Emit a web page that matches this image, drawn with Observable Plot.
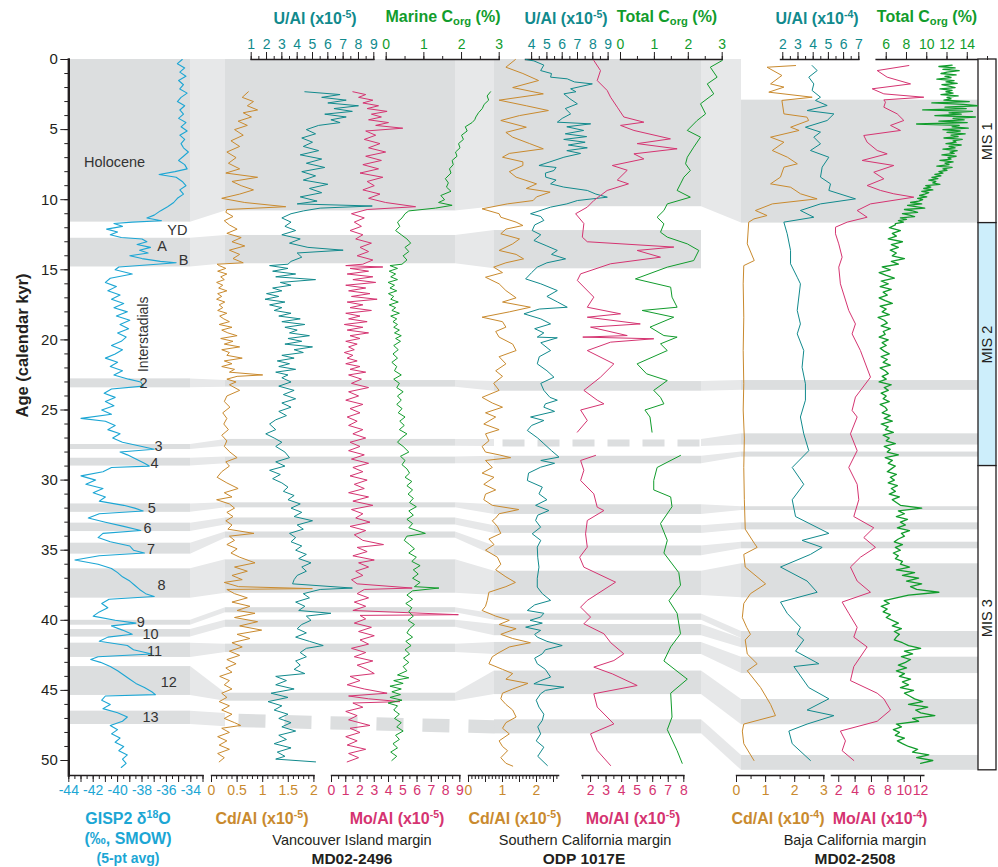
<!DOCTYPE html>
<html>
<head>
<meta charset="utf-8">
<script src="https://cdn.jsdelivr.net/npm/d3@7"></script>
<script src="https://cdn.jsdelivr.net/npm/@observablehq/plot@0.6"></script>
<style>
  body { margin: 0; background: #fff; }
  #fig { position: relative; width: 998px; height: 867px; font-family: "Liberation Sans", Arial, sans-serif; overflow: hidden; }
  #fig svg { position: absolute; left: 0; top: 0; overflow: visible; }
  .lab { position: absolute; transform: translate(-50%, -50%); white-space: nowrap; line-height: 1; }
  .b { font-weight: bold; font-size: 16px; }
  .sup { font-size: 0.66em; vertical-align: 0.55em; }
  .sub { font-size: 0.7em; vertical-align: -0.25em; }
  .site { font-size: 14.5px; color: #231f20; }
  .core { font-size: 15.5px; font-weight: bold; color: #231f20; }
</style>
</head>
<body>
<div id="fig"></div>
<script>
// ---------- shared age axis (calendar kyr) ----------
const ageDomain = [0, 50];
const ageRange = [59, 760];
const W = 998, H = 867, AXIS_TOP = 59, AXIS_BOTTOM = 775;

const C = {
  cyan: "#1ca6d4", orange: "#c98a2e", teal: "#118a8d", pink: "#d53471", green: "#119c2c",
  band: "#dcdedf", link: "#e7e8e9", ink: "#231f20", mis2: "#cdeefb"
};

// ---------- GISP2 δ18O (‰ SMOW), [age kyr, value] ----------
const gisp2 = [[0,-34.7],[0.3,-35.1],[0.6,-34.5],[0.9,-34.9],[1.2,-34.4],[1.5,-35.0],[1.8,-34.6],[2.1,-34.9],[2.4,-34.3],[2.7,-34.8],[3.0,-35.1],[3.3,-34.5],[3.6,-34.9],[3.9,-34.6],[4.2,-35.0],[4.5,-34.4],[4.8,-34.8],[5.1,-34.3],[5.4,-34.9],[5.7,-34.5],[6.0,-34.8],[6.3,-34.6],[6.6,-34.2],[6.9,-34.6],[7.2,-35.0],[7.5,-34.5],[7.8,-34.3],[8.0,-35.3],[8.2,-36.6],[8.4,-35.2],[8.7,-34.7],[9.0,-34.4],[9.3,-34.9],[9.6,-34.6],[9.9,-35.1],[10.2,-35.4],[10.5,-35.9],[10.8,-36.5],[11.1,-37.0],[11.3,-37.6],[11.5,-36.4],[11.6,-38.8],[11.7,-40.3],[11.9,-39.6],[12.1,-40.9],[12.3,-40.0],[12.5,-40.6],[12.7,-39.7],[12.8,-38.0],[13.0,-37.6],[13.2,-38.4],[13.4,-37.3],[13.6,-38.2],[13.8,-37.5],[14.0,-39.0],[14.2,-38.0],[14.4,-36.5],[14.5,-35.2],[14.6,-36.8],[14.8,-39.9],[15.0,-40.2],[15.3,-38.8],[15.6,-40.6],[15.9,-41.0],[16.2,-40.1],[16.5,-40.8],[16.8,-39.8],[17.1,-40.5],[17.4,-39.5],[17.7,-40.3],[18.0,-39.2],[18.3,-40.1],[18.6,-39.0],[18.9,-39.8],[19.2,-39.1],[19.5,-40.0],[19.8,-39.3],[20.1,-39.7],[20.4,-40.5],[20.7,-39.6],[21.0,-40.2],[21.3,-41.0],[21.6,-40.0],[21.9,-40.6],[22.2,-39.6],[22.5,-40.3],[22.8,-39.1],[23.0,-38.1],[23.3,-37.9],[23.5,-40.5],[23.8,-41.1],[24.1,-40.2],[24.4,-41.0],[24.7,-40.3],[25.0,-41.3],[25.3,-40.5],[25.6,-43.0],[25.8,-41.0],[26.1,-40.2],[26.4,-40.8],[26.7,-39.8],[27.0,-40.4],[27.3,-39.6],[27.6,-38.0],[27.8,-37.0],[28.0,-39.8],[28.2,-39.2],[28.5,-38.5],[28.8,-37.8],[29.0,-37.4],[29.1,-40.5],[29.4,-41.2],[29.7,-43.0],[30.0,-41.8],[30.3,-42.6],[30.6,-41.2],[30.9,-42.0],[31.2,-41.0],[31.5,-41.5],[31.8,-39.5],[32.0,-38.6],[32.2,-37.9],[32.4,-41.5],[32.7,-42.4],[33.0,-41.0],[33.3,-39.5],[33.6,-38.1],[33.8,-41.2],[34.1,-41.6],[34.4,-40.6],[34.7,-39.0],[35.0,-38.7],[35.2,-37.8],[35.4,-41.5],[35.7,-43.5],[36.0,-41.6],[36.3,-40.5],[36.6,-40.0],[36.9,-39.6],[37.2,-39.0],[37.5,-38.6],[37.8,-38.2],[38.1,-37.7],[38.3,-37.0],[38.5,-40.7],[38.8,-41.3],[39.1,-40.8],[39.4,-41.5],[39.7,-42.0],[40.0,-40.2],[40.2,-38.5],[40.4,-40.5],[40.7,-39.6],[41.0,-38.8],[41.2,-40.8],[41.5,-41.5],[41.8,-39.2],[42.1,-38.7],[42.4,-37.2],[42.6,-41.6],[42.8,-42.2],[43.0,-41.4],[43.3,-40.6],[43.6,-40.0],[43.9,-39.5],[44.2,-39.0],[44.5,-38.5],[44.8,-37.8],[45.1,-37.2],[45.3,-36.9],[45.4,-41.0],[45.7,-41.3],[46.0,-40.6],[46.3,-41.2],[46.6,-40.0],[46.9,-39.2],[47.2,-39.6],[47.5,-40.6],[47.8,-40.0],[48.1,-40.5],[48.4,-39.8],[48.7,-40.2],[49.0,-39.5],[49.3,-39.9],[49.6,-39.2],[49.9,-39.6],[50.2,-39.3],[50.5,-39.7]];

// ---------- MD02-2496, Vancouver Island margin ----------
const md2496Cd = [[2.3,0.72],[2.7,0.6],[3.0,0.82],[3.3,0.7],[3.6,0.9],[3.8,0.62],[4.1,0.78],[4.4,0.52],[4.7,0.7],[5.0,0.45],[5.4,0.62],[5.8,0.38],[6.2,0.55],[6.6,0.3],[7.0,0.48],[7.4,0.33],[7.8,0.55],[8.1,0.28],[8.4,0.9],[8.7,0.4],[9.0,0.58],[9.3,0.82],[9.6,0.55],[9.9,0.2],[10.2,0.65],[10.5,1.45],[10.7,0.3],[10.9,0.28],[11.2,0.42],[11.5,0.25],[11.8,0.35],[12.1,0.5],[12.4,0.3],[12.7,0.58],[13.0,0.4],[13.3,0.65],[13.6,0.35],[13.9,0.55],[14.2,0.42],[14.5,0.62],[14.6,0.11],[14.7,0.15],[14.9,0.28],[15.1,0.12],[15.3,0.3],[15.5,0.18],[15.7,0.25],[15.9,0.1],[16.1,0.22],[16.3,0.14],[16.5,0.3],[16.7,0.12],[16.9,0.2],[17.1,0.1],[17.3,0.26],[17.5,0.15],[17.7,0.22],[17.9,0.12],[18.1,0.3],[18.3,0.16],[18.5,0.24],[18.7,0.35],[18.9,0.15],[19.1,0.4],[19.3,0.2],[19.5,0.32],[19.7,0.5],[19.9,0.18],[20.1,0.42],[20.3,0.25],[20.5,0.55],[20.7,0.2],[20.9,0.35],[21.1,0.3],[21.3,0.6],[21.5,0.25],[21.7,0.4],[21.9,0.2],[22.1,0.45],[22.3,0.35],[22.5,1.0],[22.6,0.5],[22.8,0.3],[23.0,0.48],[23.2,0.35],[23.6,0.55],[24.0,0.3],[24.4,0.25],[24.8,0.36],[25.2,0.22],[25.6,0.3],[26.0,0.24],[26.4,0.33],[26.8,0.2],[27.2,0.3],[27.6,0.25],[28.0,0.36],[28.4,0.5],[28.7,0.28],[29.0,0.35],[29.4,0.2],[29.8,0.11],[30.2,0.3],[30.6,0.52],[30.9,0.25],[31.2,0.4],[31.4,0.1],[31.7,0.35],[32.0,0.45],[32.3,0.3],[32.6,0.42],[32.9,0.28],[33.2,0.4],[33.5,0.32],[33.8,0.83],[34.0,0.35],[34.3,0.45],[34.6,0.3],[34.9,0.5],[35.2,0.38],[35.5,0.55],[35.9,0.85],[36.2,0.45],[36.5,0.7],[36.8,0.4],[37.1,0.6],[37.3,0.25],[37.6,0.53],[37.74,1.97],[37.8,0.3],[38.1,0.45],[38.4,0.7],[38.7,0.4],[39.0,0.75],[39.3,0.5],[39.5,0.85],[39.8,0.45],[40.1,0.9],[40.4,0.55],[40.7,0.98],[41.0,0.5],[41.3,0.75],[41.6,0.4],[41.9,0.6],[42.2,0.35],[42.5,0.55],[42.8,0.3],[43.1,0.48],[43.4,0.28],[43.7,0.4],[44.0,0.16],[44.3,0.35],[44.6,0.25],[44.9,0.4],[45.2,0.2],[45.5,0.3],[45.8,0.15],[46.1,0.35],[46.4,0.2],[46.7,0.4],[47.0,0.25],[47.3,0.45],[47.5,0.57],[47.7,0.2],[48.0,0.35],[48.3,0.12],[48.6,0.3],[48.9,0.15],[49.2,0.35],[49.5,0.12],[49.8,0.25],[50.1,0.15]];

const md2496U = [[2.3,4.5],[2.5,6.8],[2.7,5.6],[2.9,7.2],[3.1,6.0],[3.3,8.0],[3.5,6.4],[3.7,7.6],[3.9,5.8],[4.1,7.2],[4.3,6.2],[4.5,6.8],[4.7,5.4],[5.0,4.6],[5.3,5.2],[5.6,4.3],[5.9,5.0],[6.2,4.4],[6.5,5.4],[6.8,4.2],[7.1,5.6],[7.4,4.6],[7.7,5.8],[8.0,4.3],[8.3,5.2],[8.6,4.4],[8.9,6.0],[9.2,4.8],[9.5,5.6],[9.8,4.2],[10.1,5.3],[10.3,4.0],[10.45,8.9],[10.6,5.5],[10.8,4.4],[11.0,3.6],[11.3,3.0],[11.6,3.6],[11.9,3.2],[12.2,3.9],[12.5,3.0],[12.8,4.2],[13.1,3.5],[13.4,4.7],[13.6,7.0],[13.8,4.0],[14.1,4.3],[14.4,3.6],[14.6,3.4],[14.7,2.2],[14.9,3.4],[15.1,2.4],[15.3,3.9],[15.5,2.6],[15.7,5.2],[15.9,2.9],[16.1,3.6],[16.3,2.4],[16.5,3.0],[16.7,2.0],[16.9,2.8],[17.1,1.9],[17.3,3.2],[17.5,2.2],[17.7,3.0],[17.9,2.5],[18.1,3.6],[18.3,2.8],[18.5,4.2],[18.7,3.0],[18.9,4.5],[19.1,3.2],[19.3,4.0],[19.5,3.5],[19.7,4.8],[19.9,3.4],[20.1,4.3],[20.3,3.2],[20.5,5.0],[20.7,3.8],[20.9,4.4],[21.1,3.0],[21.3,3.8],[21.5,2.7],[21.7,3.5],[21.9,2.8],[22.1,3.9],[22.3,2.6],[22.5,3.4],[22.7,3.0],[23.0,3.6],[23.3,2.8],[23.6,3.8],[23.9,3.1],[24.2,3.9],[24.5,3.0],[24.8,3.6],[25.1,2.8],[25.4,3.3],[25.7,2.6],[26.0,2.2],[26.4,2.6],[26.7,1.95],[27.0,2.5],[27.3,3.0],[27.6,2.6],[28.0,3.2],[28.4,3.5],[28.7,2.6],[29.0,3.2],[29.3,2.2],[29.6,2.9],[29.9,2.4],[30.2,3.0],[30.5,3.4],[30.8,3.1],[31.1,3.8],[31.4,3.4],[31.7,4.2],[32.0,3.6],[32.3,4.3],[32.6,3.8],[32.9,5.0],[33.2,4.0],[33.5,4.4],[33.8,3.5],[34.1,3.9],[34.4,3.6],[34.7,4.3],[35.0,3.9],[35.3,4.6],[35.6,4.1],[35.9,4.9],[36.2,4.3],[36.5,4.6],[36.8,4.0],[37.1,3.8],[37.4,3.7],[37.7,7.6],[37.8,5.5],[38.1,4.4],[38.4,4.8],[38.7,3.9],[39.0,4.5],[39.3,4.1],[39.5,6.2],[39.7,4.6],[40.0,4.9],[40.3,4.3],[40.6,4.0],[40.9,4.6],[41.2,3.9],[41.5,4.8],[41.8,5.7],[42.0,4.6],[42.3,4.2],[42.6,4.6],[42.9,3.9],[43.2,4.2],[43.5,3.8],[43.8,4.5],[44.0,2.6],[44.3,3.3],[44.6,2.6],[44.9,3.8],[45.2,2.3],[45.5,3.4],[45.8,2.1],[46.1,3.0],[46.4,2.5],[46.7,3.4],[47.0,2.8],[47.3,3.6],[47.6,3.0],[47.9,3.9],[48.2,2.8],[48.5,3.3],[48.8,2.5],[49.1,3.6],[49.4,2.7],[49.7,3.2],[49.9,2.6],[50.1,5.2]];

const md2496Mo = [[2.3,1.5],[2.5,2.4],[2.7,1.9],[2.9,2.9],[3.1,2.2],[3.3,3.3],[3.5,2.5],[3.7,3.9],[3.9,2.8],[4.1,3.5],[4.3,2.6],[4.5,4.0],[4.7,3.1],[4.9,5.0],[5.1,2.4],[5.4,3.1],[5.7,2.3],[6.0,3.4],[6.3,2.6],[6.6,3.8],[6.9,2.4],[7.2,3.5],[7.5,2.2],[7.8,3.3],[8.1,2.0],[8.4,3.6],[8.7,2.5],[9.0,3.0],[9.3,2.2],[9.6,3.4],[9.9,2.6],[10.2,3.8],[10.5,5.9],[10.7,2.5],[11.0,1.4],[11.3,2.3],[11.6,1.6],[11.9,2.1],[12.2,1.3],[12.5,2.2],[12.8,1.7],[13.1,2.8],[13.4,2.0],[13.7,2.6],[14.0,1.8],[14.3,2.9],[14.6,2.2],[14.7,1.0],[14.8,3.6],[14.9,1.3],[15.1,2.6],[15.3,1.1],[15.5,2.9],[15.7,1.5],[15.9,3.1],[16.1,1.0],[16.3,2.4],[16.5,1.2],[16.7,2.7],[16.9,1.4],[17.1,3.2],[17.3,1.1],[17.5,2.2],[17.7,1.3],[17.9,2.8],[18.1,1.0],[18.3,2.0],[18.5,1.2],[18.7,2.5],[18.9,0.9],[19.1,2.2],[19.3,1.1],[19.5,2.6],[19.7,1.3],[19.9,2.0],[20.1,1.0],[20.3,1.8],[20.5,1.2],[20.7,1.6],[20.9,0.9],[21.1,1.5],[21.3,1.1],[21.5,1.8],[21.7,1.0],[21.9,2.0],[22.1,1.3],[22.3,2.4],[22.5,1.2],[22.8,2.1],[23.1,1.4],[23.4,2.6],[23.7,1.2],[24.0,1.9],[24.3,1.0],[24.6,2.2],[24.9,1.3],[25.2,2.0],[25.5,1.1],[25.8,1.8],[26.1,1.2],[26.4,2.2],[26.7,1.5],[27.0,2.4],[27.3,1.3],[27.6,2.0],[27.9,1.2],[28.2,2.3],[28.5,1.4],[28.8,2.6],[29.1,1.5],[29.4,2.2],[29.7,1.3],[30.0,2.5],[30.3,1.6],[30.6,2.3],[30.9,1.2],[31.2,2.6],[31.5,1.5],[31.8,2.9],[32.1,1.4],[32.4,2.2],[32.7,1.7],[33.0,2.7],[33.3,1.3],[33.6,2.4],[33.9,1.6],[34.3,2.2],[34.6,3.65],[34.8,1.8],[35.1,2.5],[35.4,1.5],[35.7,3.0],[35.9,1.9],[36.2,2.6],[36.5,1.7],[36.8,2.2],[37.1,1.4],[37.4,1.8],[37.7,5.66],[37.8,2.3],[38.1,1.8],[38.4,2.6],[38.7,1.6],[39.0,2.4],[39.3,1.5],[39.6,8.9],[39.65,2.0],[39.9,2.4],[40.2,1.6],[40.5,2.8],[40.8,1.9],[41.1,3.0],[41.4,2.0],[41.7,2.6],[42.0,1.4],[42.3,2.4],[42.6,1.6],[42.9,2.9],[43.2,1.8],[43.5,2.5],[43.8,3.0],[44.0,1.3],[44.3,2.0],[44.6,1.1],[44.9,2.3],[45.2,3.9],[45.4,1.2],[45.6,2.6],[45.8,4.8],[45.9,1.5],[46.2,2.2],[46.5,1.0],[46.8,1.8],[47.1,1.2],[47.5,2.7],[47.7,1.3],[48.0,2.0],[48.3,1.0],[48.6,1.8],[48.9,1.1],[49.2,2.4],[49.5,1.2],[49.8,1.9],[50.1,1.1]];

const md2496Corg = [[2.3,2.77],[2.6,2.68],[2.9,2.72],[3.2,2.6],[3.5,2.55],[3.8,2.45],[4.1,2.38],[4.3,2.35],[4.5,2.28],[4.8,2.1],[5.1,2.15],[5.4,2.0],[5.7,2.05],[6.0,1.92],[6.3,1.96],[6.6,1.84],[6.9,1.88],[7.2,1.75],[7.5,1.78],[7.8,1.68],[8.1,1.72],[8.5,1.57],[8.8,1.65],[9.1,1.6],[9.4,1.72],[9.7,1.45],[10.0,1.55],[10.2,1.39],[10.4,1.75],[10.6,1.31],[10.8,0.6],[11.0,0.5],[11.3,0.42],[11.6,0.3],[11.9,0.36],[12.2,0.25],[12.5,0.4],[12.8,0.55],[13.1,0.65],[13.4,0.5],[13.7,0.6],[14.0,0.45],[14.3,0.55],[14.6,0.42],[14.7,0.1],[14.9,0.3],[15.1,0.08],[15.3,0.25],[15.5,0.12],[15.7,0.3],[15.9,0.05],[16.1,0.22],[16.3,0.1],[16.5,0.28],[16.7,0.06],[16.9,0.2],[17.1,0.12],[17.3,0.32],[17.5,0.08],[17.7,0.25],[17.9,0.15],[18.1,0.35],[18.3,0.12],[18.5,0.28],[18.7,0.18],[18.9,0.3],[19.1,0.2],[19.3,0.35],[19.5,0.22],[19.7,0.4],[19.9,0.25],[20.1,0.38],[20.4,0.2],[20.7,0.32],[21.0,0.18],[21.3,0.3],[21.6,0.15],[21.9,0.28],[22.2,0.22],[22.5,0.4],[22.8,0.2],[23.1,0.35],[23.4,0.28],[23.7,0.45],[24.0,0.3],[24.3,0.4],[24.6,0.28],[24.9,0.42],[25.2,0.32],[25.5,0.5],[25.8,0.36],[26.1,0.48],[26.4,0.35],[26.7,0.55],[27.0,0.4],[27.3,0.3],[27.6,0.45],[28.0,0.6],[28.3,0.38],[28.6,0.5],[28.9,0.42],[29.2,0.55],[29.5,0.62],[29.8,0.5],[30.1,0.68],[30.4,0.55],[30.7,0.7],[31.0,0.58],[31.3,0.72],[31.6,0.62],[31.9,0.8],[32.2,0.6],[32.5,0.72],[32.8,0.55],[33.1,0.7],[33.4,0.6],[33.8,1.04],[34.0,0.55],[34.3,0.48],[34.6,0.62],[34.9,0.75],[35.2,0.6],[35.5,0.8],[35.8,0.68],[36.1,0.9],[36.4,0.72],[36.7,0.85],[37.0,0.7],[37.3,0.9],[37.6,0.75],[37.7,1.4],[37.9,0.7],[38.2,0.55],[38.5,0.7],[38.8,0.52],[39.1,0.68],[39.4,0.6],[39.7,0.72],[40.0,0.58],[40.3,0.75],[40.6,0.62],[40.9,0.55],[41.2,0.7],[41.5,0.52],[41.8,0.66],[42.1,0.5],[42.4,0.62],[42.7,0.46],[43.0,0.6],[43.3,0.45],[43.6,0.55],[43.9,0.3],[44.1,0.6],[44.3,0.2],[44.5,0.45],[44.7,0.1],[44.9,0.4],[45.1,0.15],[45.3,0.38],[45.5,0.1],[45.7,0.42],[45.9,0.05],[46.1,0.3],[46.4,0.2],[46.7,0.35],[47.0,0.22],[47.3,0.4],[47.6,0.28],[47.9,0.45],[48.2,0.25],[48.5,0.35],[48.8,0.18],[49.1,0.3],[49.4,0.12],[49.7,0.28],[50.0,0.15]];

// ---------- ODP 1017E, Southern California margin (null = no samples) ----------
const odpCd = [[0.0,1.38],[0.55,1.1],[1.0,1.6],[1.5,2.06],[2.0,1.3],[2.45,2.2],[2.9,0.9],[3.3,1.7],[3.64,2.35],[4.0,1.5],[4.35,0.95],[4.83,1.7],[5.2,1.1],[5.54,1.3],[6.0,1.8],[6.37,2.2],[6.7,1.2],[6.97,1.0],[7.3,1.6],[7.56,1.6],[8.0,1.2],[8.39,1.4],[8.87,2.0],[9.2,1.7],[9.46,2.4],[9.8,2.0],[10.06,1.9],[10.3,1.14],[10.65,0.4],[11.0,0.9],[11.25,0.95],[11.6,1.4],[11.84,1.6],[12.1,1.1],[12.43,0.95],[12.8,1.5],[13.15,1.3],[13.62,0.9],[13.9,1.4],[14.22,1.62],[14.5,1.1],[14.81,0.74],[15.2,1.0],[15.53,0.5],[16.0,0.9],[16.48,1.1],[17.0,1.4],[17.3,1.0],[17.67,1.82],[18.0,1.2],[18.38,0.4],[18.7,1.0],[19.09,1.1],[19.4,0.8],[19.8,0.9],[20.3,1.3],[20.76,1.4],[21.2,0.9],[21.71,1.1],[22.2,0.8],[22.6,1.0],[23.1,0.74],[23.6,0.9],[24.1,0.4],[24.5,0.7],[24.8,1.0],[25.2,0.5],[25.5,0.8],[26.0,0.45],[26.4,0.9],[26.7,0.5],[27.2,0.6],[27.6,0.4],[28.0,0.5],[28.2,0.9],[28.4,1.24],[28.6,0.5],[29.1,0.7],[29.5,0.4],[29.8,0.75],[30.3,0.45],[30.7,0.8],[31.0,0.5],[31.4,0.45],[31.8,0.7],[32.1,1.48],[32.4,0.9],[32.7,0.8],[32.9,0.7],[33.3,0.85],[33.8,0.95],[34.2,0.6],[34.6,0.75],[35.0,0.5],[35.5,0.85],[36.0,0.95],[36.4,0.8],[36.9,1.1],[37.3,1.38],[37.6,1.1],[38.0,0.6],[38.6,0.55],[39.0,0.5],[39.3,0.4],[39.7,0.8],[40.0,1.2],[40.3,0.9],[40.6,1.4],[41.0,0.95],[41.3,1.3],[41.6,1.82],[41.9,1.2],[42.3,0.9],[42.6,0.7],[43.1,0.6],[43.5,1.0],[43.8,1.3],[44.2,1.1],[44.5,1.75],[44.9,1.3],[45.2,1.0],[45.6,0.95],[46.0,1.1],[46.4,1.3],[46.9,1.4],[47.3,1.1],[47.7,1.0],[48.1,1.2],[48.6,0.9],[49.0,1.0],[49.3,1.15],[49.8,0.95],[50.2,1.1],[50.4,1.3]];

const odpU = [[0.0,3.61],[0.1,4.15],[0.4,4.8],[0.79,4.59],[1.0,5.3],[1.26,5.24],[1.38,6.33],[1.6,6.8],[1.74,7.97],[2.09,6.55],[2.3,6.9],[2.45,6.11],[2.8,6.5],[3.16,6.99],[3.5,6.2],[3.88,6.55],[4.2,6.0],[4.47,5.68],[4.59,7.86],[4.8,6.3],[5.06,7.4],[5.3,6.2],[5.5,7.6],[5.7,6.1],[5.9,7.5],[6.1,6.4],[6.3,7.64],[6.5,6.3],[6.7,7.2],[6.97,6.11],[7.3,5.2],[7.56,4.48],[7.7,5.6],[7.92,5.46],[8.1,4.9],[8.39,4.92],[8.6,5.6],[8.87,5.24],[9.1,6.1],[9.34,7.64],[9.6,8.2],[9.82,8.95],[10.06,6.99],[10.3,6.3],[10.53,5.24],[11.0,3.93],[11.2,4.6],[11.48,4.8],[11.8,4.2],[12.2,4.04],[12.5,4.6],[12.91,4.15],[13.3,5.0],[13.62,5.68],[13.9,5.3],[14.22,6.22],[14.5,5.0],[14.81,4.37],[15.2,4.0],[15.65,3.61],[16.0,4.6],[16.48,5.68],[16.9,5.0],[17.3,5.7],[17.67,6.33],[17.8,4.5],[18.14,3.5],[18.5,4.6],[18.86,5.24],[19.2,4.2],[19.5,4.8],[19.8,4.37],[19.85,5.68],[20.2,4.6],[20.76,5.24],[21.2,4.5],[21.71,4.37],[22.2,5.0],[22.66,5.46],[23.1,4.6],[23.6,4.8],[24.1,5.2],[24.3,5.68],[24.56,4.9],[24.8,4.8],[25.1,5.5],[25.5,3.93],[25.75,4.8],[26.1,4.0],[26.46,3.72],[27.0,4.4],[27.4,4.8],[27.9,5.3],[28.36,5.79],[28.6,4.6],[28.8,5.5],[29.08,4.59],[29.5,3.8],[30.03,3.72],[30.5,4.7],[30.98,4.48],[31.4,5.0],[31.8,4.26],[32.17,5.13],[32.5,4.4],[32.88,4.26],[33.36,4.59],[33.83,4.04],[34.3,4.6],[34.78,4.37],[35.5,4.4],[36.21,4.48],[37.0,4.37],[37.63,4.37],[38.1,4.7],[38.58,5.24],[38.9,4.2],[39.3,3.72],[39.5,4.8],[39.77,4.59],[40.0,3.9],[40.2,4.7],[40.49,3.61],[40.72,4.59],[41.0,4.2],[41.2,4.37],[41.5,5.0],[41.8,6.0],[42.1,4.9],[42.39,4.7],[42.7,4.2],[43.1,4.37],[43.5,4.9],[44.05,5.24],[44.3,4.6],[44.53,4.15],[44.77,6.11],[45.0,4.9],[45.24,4.59],[45.7,4.3],[46.19,4.48],[46.7,4.8],[47.14,4.7],[47.6,4.4],[48.1,4.59],[48.6,4.3],[49.05,4.8],[49.7,4.4],[50.36,5.03]];

const odpMo = [[0.07,2.21],[0.79,2.64],[1.5,2.43],[2.21,3.07],[2.69,3.29],[3.4,3.72],[4.1,4.14],[4.47,5.43],[4.7,3.93],[5.06,4.79],[5.66,7.14],[6.0,5.0],[6.37,7.57],[6.73,4.79],[7.09,5.43],[7.56,3.4],[7.9,4.36],[8.6,3.72],[8.87,4.44],[9.34,3.07],[10.06,2.21],[10.53,1.79],[11.0,1.04],[11.7,1.57],[12.67,1.47],[13.0,1.79],[13.38,7.36],[13.62,5.0],[14.1,6.5],[14.57,3.29],[15.29,1.36],[15.76,1.15],[16.95,2.21],[17.67,1.79],[18.14,3.93],[18.38,1.79],[18.86,5.2],[19.09,2.0],[19.69,4.36],[19.8,1.5],[19.92,6.07],[20.16,3.29],[20.76,1.79],[21.71,3.5],[22.66,2.64],[23.6,1.57],[24.3,2.43],[24.56,2.86],[25.0,1.36],[25.75,1.79],[26.58,1.15],[27.4,null],[28.24,2.32],[28.6,1.36],[29.3,1.57],[30.03,1.36],[30.98,2.21],[31.93,2.43],[32.17,2.86],[32.88,1.79],[33.83,1.68],[34.78,1.79],[35.5,1.3],[36.21,1.57],[37.28,3.61],[38.58,1.79],[39.06,1.36],[39.77,2.0],[40.25,1.57],[40.96,2.86],[41.6,3.3],[42.39,4.14],[42.87,3.5],[43.34,2.21],[43.82,3.4],[44.65,5.0],[45.24,2.21],[46.19,2.43],[47.39,3.5],[48.1,2.0],[49.29,2.43],[50.36,3.29]];

const odpCorg = [[0.07,3.0],[0.55,2.65],[1.26,2.85],[1.74,2.56],[2.45,2.75],[3.16,2.36],[3.88,2.51],[4.35,2.26],[5.06,1.97],[5.54,2.36],[6.25,2.16],[6.97,1.97],[7.44,1.92],[7.92,2.06],[8.39,1.87],[8.87,1.77],[9.34,1.67],[9.82,2.06],[10.3,1.38],[10.77,1.28],[11.25,1.08],[11.72,1.28],[12.32,1.18],[12.67,1.38],[13.15,1.97],[13.62,2.31],[14.34,2.16],[14.81,1.38],[15.65,0.44],[16.24,1.48],[16.95,1.52],[17.67,1.67],[17.9,0.64],[18.38,1.57],[19.09,0.87],[19.69,1.28],[19.8,1.67],[20.28,1.18],[20.76,1.38],[21.71,0.49],[22.42,0.77],[22.9,1.38],[23.6,0.98],[24.1,1.18],[24.56,1.28],[25.0,0.72],[25.5,0.87],[26.58,0.93],[27.4,null],[28.24,1.77],[29.1,1.08],[30.03,0.98],[30.7,0.98],[31.2,1.48],[31.9,1.52],[33.1,1.18],[34.3,1.38],[35.2,1.28],[36.6,1.72],[37.5,1.77],[38.6,1.43],[39.5,1.67],[40.96,1.77],[41.9,1.48],[42.9,1.28],[44.2,1.97],[45.2,1.48],[46.9,1.52],[47.8,1.38],[49.3,1.67],[50.2,1.82]];

// ---------- MD02-2508, Baja California margin ----------
const md2508Cd = [[0.43,2.03],[0.55,1.05],[1.14,1.56],[1.74,1.17],[1.97,1.63],[2.33,1.11],[2.69,2.6],[2.92,1.56],[3.88,1.63],[4.11,2.42],[4.35,2.48],[4.83,1.86],[5.06,2.15],[5.54,1.17],[5.9,1.63],[6.49,1.23],[6.97,1.75],[7.44,2.09],[7.68,1.63],[8.39,1.51],[8.87,1.17],[9.11,1.86],[9.58,2.2],[9.94,2.77],[10.3,1.23],[10.77,0.65],[11.13,1.05],[11.37,0.6],[11.6,0.42],[13.15,0.37],[14.34,0.61],[14.7,0.25],[16.0,0.23],[18.38,0.25],[20.76,0.23],[23.13,0.25],[25.0,0.23],[27.0,0.27],[29.1,0.25],[31.4,0.27],[33.5,0.3],[34.5,0.61],[34.8,0.71],[35.3,0.25],[36.2,0.3],[37.4,1.0],[38.1,0.48],[38.8,0.25],[39.8,0.2],[40.5,0.35],[41.0,0.48],[41.4,0.3],[42.4,0.37],[43.1,0.71],[43.6,0.37],[44.8,0.83],[46.0,1.17],[46.8,1.34],[47.4,0.25],[47.9,0.2],[48.8,0.25],[50.0,0.6]];

const md2508U = [[0.43,3.93],[0.79,4.26],[1.26,3.71],[1.74,4.04],[2.21,3.93],[2.69,4.48],[2.92,4.15],[3.28,4.92],[3.64,3.6],[3.88,5.36],[4.35,4.92],[4.83,3.49],[5.18,4.48],[5.54,4.04],[6.02,4.48],[6.49,3.82],[6.97,5.03],[7.68,4.59],[8.39,4.48],[8.87,5.14],[9.34,5.03],[9.94,6.78],[10.3,4.48],[10.77,3.16],[11.25,4.04],[11.6,2.07],[12.43,2.29],[13.62,2.51],[14.57,2.51],[15.53,2.95],[16.0,3.16],[17.9,2.95],[18.86,3.16],[19.57,2.95],[20.76,3.38],[21.95,3.27],[23.13,3.49],[24.3,3.49],[25.5,3.16],[26.7,3.38],[27.9,3.71],[29.1,2.62],[30.3,3.38],[31.4,2.62],[32.6,2.84],[33.8,5.03],[34.3,3.27],[34.8,4.59],[35.3,3.82],[36.2,1.85],[37.2,3.6],[38.0,4.26],[38.7,1.85],[39.5,2.29],[40.5,3.16],[41.0,2.95],[41.4,3.38],[42.2,2.84],[43.1,4.37],[43.3,2.73],[44.8,3.71],[45.6,5.03],[46.4,3.6],[46.8,5.36],[47.4,3.6],[47.9,2.4],[48.8,2.62],[50.0,3.82]];

const md2508Mo = [[0.43,10.57],[0.79,6.7],[1.26,7.92],[1.74,10.78],[2.09,6.09],[2.45,7.51],[2.69,12.4],[2.88,7.51],[3.04,7.71],[3.4,7.51],[3.88,9.15],[4.35,9.96],[4.7,8.33],[5.06,9.55],[5.42,5.06],[5.9,5.47],[6.49,6.7],[6.73,7.92],[7.2,4.86],[7.56,8.73],[8.04,6.28],[8.51,7.51],[8.99,5.47],[9.34,7.1],[9.58,8.73],[9.82,11.18],[10.3,5.88],[10.77,4.25],[11.25,5.47],[11.6,3.03],[11.96,1.6],[12.43,1.6],[13.15,2.0],[14.1,2.41],[14.81,2.0],[16.0,2.2],[17.9,3.22],[18.86,4.04],[19.57,3.63],[20.76,4.65],[22.66,5.88],[24.08,4.04],[25.03,3.63],[25.5,4.25],[26.7,3.43],[27.9,4.25],[29.1,3.22],[30.3,4.25],[31.4,4.45],[32.6,3.84],[33.4,6.28],[34.1,5.06],[34.8,6.49],[35.5,4.65],[36.2,3.43],[37.2,4.25],[38.0,5.88],[38.7,2.41],[39.5,3.22],[40.5,4.25],[41.2,3.84],[41.9,5.47],[43.3,3.84],[44.3,3.43],[45.2,6.7],[45.6,7.51],[46.4,8.33],[47.2,6.7],[47.9,2.2],[48.6,2.82],[49.3,2.41],[50.0,3.84]];

// Total Corg (%): high-resolution scan, Holocene sampled every 0.1 kyr from 0.4 kyr,
// glacial section every 0.2 kyr from 11.8 kyr
const md2508CorgHolocene = [12.5,11.2,12.8,11.6,13.2,12.0,11.4,12.9,11.8,12.4,11.0,12.7,11.9,13.0,11.5,12.2,12.8,11.3,12.5,11.9,12.6,11.4,13.1,12.0,12.4,11.7,
  14.2,10.5,13.6,15.0,11.8,13.9,9.6,14.5,12.2,13.4,10.8,14.8,12.6,13.7,11.2,14.0,9.0,13.2,12.5,14.1,11.6,
  13.3,12.0,13.8,12.4,13.1,11.7,13.5,12.6,12.9,11.9,13.4,12.2,12.8,11.6,13.0,12.3,12.7,11.5,12.9,12.1,12.4,11.3,12.6,11.8,12.2,11.0,12.5,11.6,12.0,11.2,
  11.6,10.8,11.4,10.5,11.1,10.2,10.9,10.6,11.3,9.9,10.4,9.7,10.6,9.5,10.2,9.8,9.3,10.0,9.1,9.6,
  9.2,8.4,9.5,8.1,8.9,9.8,7.8,8.6,9.1,7.6,8.3,8.8,7.4,8.0,7.2,7.7,6.9];
const md2508CorgGlacial = [6.9,6.3,7.4,6.6,7.0,6.2,7.6,6.5,7.2,6.4,7.0,6.6,7.8,6.5,7.2,
  5.6,6.4,5.3,6.0,6.8,5.5,6.2,5.4,6.5,5.7,6.1,5.3,5.9,6.6,5.4,6.0,5.6,6.3,5.2,5.8,6.1,5.5,6.4,5.7,5.9,5.3,6.2,5.6,6.0,5.4,5.8,6.3,5.5,6.1,5.7,6.4,5.4,5.9,6.2,5.6,6.0,5.3,6.5,5.8,6.2,5.5,6.0,5.7,6.3,5.4,5.9,6.1,5.6,6.4,5.8,6.6,5.5,6.2,5.9,6.7,5.7,6.3,6.0,6.9,5.8,6.4,6.1,7.2,5.9,6.6,6.2,6.9,
  6.5,6.1,7.0,6.4,6.8,6.2,7.1,6.5,6.9,6.3,7.3,6.6,7.0,7.4,
  9.5,7.2,7.8,7.0,8.1,7.4,7.9,7.1,8.3,7.5,7.8,
  7.2,6.8,7.6,6.9,7.4,6.7,7.2,6.9,7.6,
  7.4,8.3,7.0,8.8,7.6,9.2,8.0,9.5,8.4,9.0,11.2,8.2,7.0,
  5.8,6.3,5.5,6.1,5.7,6.4,6.0,6.6,
  7.2,6.6,7.5,6.8,7.3,7.0,6.8,7.6,
  8.2,9.4,7.8,8.6,7.5,8.4,7.9,
  7.2,8.0,7.0,7.8,7.3,8.4,7.6,8.2,7.4,8.7,7.8,8.3,
  8.8,9.6,8.2,10.1,8.9,9.4,10.8,8.6,9.2,
  7.0,7.5,6.7,7.3,6.9,7.8,7.1,7.6,
  8.2,9.1,8.6,10.2,9.0,10.6,9.4];
const md2508Corg = [
  ...md2508CorgHolocene.map((v, i) => [+(0.4 + i * 0.1).toFixed(2), v]),
  ...md2508CorgGlacial.map((v, i) => [+(11.8 + i * 0.2).toFixed(2), v])
];

// ---------- interstadial / Holocene tie bands per core: [event, start kyr, end kyr, style] ----------
const gispBands = [["H",0,11.6],["AB",12.75,14.8],["2",22.78,23.42],["3",27.46,27.82],["4",28.44,29.0],["5",31.7,32.3],["6",33.07,33.67],["7",34.5,35.28],["8",36.33,38.42],["9",40.0,40.35],["10",40.66,41.2],["11",41.63,42.65],["12",43.3,45.36],["13",46.48,47.43]];
const md2496Bands = [["H",0,10.8],["AB",12.55,14.57],["2",22.9,23.37],["3",27.1,27.58],["4",28.36,28.84],["5",31.62,31.98],["6",32.7,33.2],["7",33.7,34.14],["8",35.69,38.07],["9",39.1,39.47],["10",39.99,40.5],["11",41.7,42.3],["12",45.2,45.77],["13",46.65,47.6,"dashedRight"]];
const odpBands = [["H",0,10.5],["AB",12.2,14.93],["2",22.97,23.66],["3",27.1,27.6,"dashed"],["4",28.3,28.84],["5",31.76,32.45],["6",33.25,33.8],["7",34.7,35.4],["8",36.5,38.23],["9",39.55,40.0],["10",40.3,41.1],["11",41.58,42.44],["12",43.62,45.3],["13",47.1,48.1]];
const md2508Bands = [["H",2.9,11.67],["2",22.9,23.6],["3",26.7,27.5],["4",28.0,28.36],["5",31.9,32.17],["6",33.05,33.55],["7",34.43,34.9],["8",35.97,38.4],["9",40.8,41.3],["10",41.3,41.96],["11",42.63,43.8],["12",45.65,47.45],["13",49.64,50.7]];

// Marine isotope stages: [name, start kyr, end kyr]
const misStages = [["MIS 1",0,11.67],["MIS 2",11.67,29.0],["MIS 3",29.0,50.7]];

// GISP2 annotations: [text, δ18O, age]
const gispNotes = [["Holocene",-40.25,7.33],["YD",-35.1,12.2],["A",-36.35,13.34],["B",-34.6,14.34],["2",-37.87,23.1],["3",-36.65,27.6],["4",-36.97,28.8],["5",-37.2,32.0],["6",-37.55,33.45],["7",-37.25,34.95],["8",-36.4,37.5],["9",-38.1,40.15],["10",-37.3,41.0],["11",-36.97,42.2],["12",-35.8,44.4],["13",-37.3,46.9]];

// ---------- figure layout: horizontal extent of each core column (px) ----------
const cols = { gisp: [68, 190], md2496: [225, 455], odp: [494, 701], md2508: [741, 978], mis: [978, 996] };
const coreOrder = [["gisp", gispBands], ["md2496", md2496Bands], ["odp", odpBands], ["md2508", md2508Bands]];

const fig = document.getElementById("fig");
const plotStyle = { fontFamily: "'Liberation Sans', Arial, sans-serif", fontSize: "14px", background: "transparent", overflow: "visible" };
const yPx = d3.scaleLinear(ageDomain, ageRange);

// ---------- background: tie bands, links between cores, MIS column ----------
const panelRects = [], links = [], dashMarks = [];
coreOrder.forEach(([key, bands], ci) => {
  bands.forEach(([ev, s, e, style]) => {
    if (!style) panelRects.push({x1: cols[key][0], x2: cols[key][1], y1: s, y2: e});
  });
  if (ci < coreOrder.length - 1) {
    const [nkey, nbands] = coreOrder[ci + 1];
    bands.forEach(([ev, s, e, style]) => {
      const nb = nbands.find(b => b[0] === ev);
      if (!nb) return;
      if (style === "dashedRight") {
        dashMarks.push(Plot.line([[cols[key][0], (s + e) / 2], [cols[nkey][0], (nb[1] + nb[2]) / 2]], {
          x: d => d[0], y: d => d[1], stroke: C.band, strokeLinecap: "butt",
          strokeWidth: yPx(e) - yPx(s), strokeDasharray: "27,19", strokeDashoffset: -13
        }));
        return;
      }
      const top = ev === "H" ? 0 : s, ntop = ev === "H" ? 0 : nb[1];
      links.push({id: key + ev, x: cols[key][1], y1: top, y2: e});
      links.push({id: key + ev, x: cols[nkey][0], y1: ntop, y2: nb[2]});
    });
  }
  bands.filter(b => b[3] === "dashed").forEach(([ev, s, e]) => {
    dashMarks.push(Plot.line([[cols[key][0], (s + e) / 2], [cols[key][1], (s + e) / 2]], {
      x: d => d[0], y: d => d[1], stroke: C.band, strokeLinecap: "butt",
      strokeWidth: yPx(e) - yPx(s), strokeDasharray: "22,13", strokeDashoffset: -8
    }));
  });
});

const misX = (cols.mis[0] + cols.mis[1]) / 2;
fig.append(Plot.plot({
  width: W, height: H, margin: 0, style: plotStyle,
  x: {domain: [0, W], range: [0, W], axis: null},
  y: {domain: ageDomain, range: ageRange, axis: null},
  marks: [
    Plot.area(links, {x1: "x", y1: "y1", y2: "y2", z: "id", fill: C.link}),
    Plot.rect(panelRects, {x1: "x1", x2: "x2", y1: "y1", y2: "y2", fill: C.band}),
    ...dashMarks,
    Plot.rect(misStages, {x1: cols.mis[0], x2: cols.mis[1], y1: d => d[1], y2: d => d[2],
      fill: d => d[0] === "MIS 2" ? C.mis2 : "#ffffff", stroke: C.ink, strokeWidth: 1.3}),
    Plot.text(misStages, {x: misX, y: d => (d[1] + d[2]) / 2, text: d => d[0], rotate: -90, fontSize: 14.5, fill: C.ink})
  ]
}));

// ---------- one overlaid plot per proxy record, each with its own value axis ----------
const steps = (a, b, s) => d3.range(Math.round(a / s), Math.round(b / s) + 1).map(i => +(i * s).toFixed(3));
const tracks = [
  {data: gisp2, domain: [-44, -33], range: [68.3, 202.5], anchor: "bottom", color: C.cyan,
   majors: steps(-44, -33, 1), minors: steps(-44, -33, 0.5), fmt: d => d % 2 === 0 && d >= -44 && d <= -34 ? String(d) : "", yAxis: true, sw: 1.1},
  {data: md2496Cd, domain: [0, 2], range: [211, 313.4], anchor: "bottom", color: C.orange,
   majors: steps(0, 2, 0.5), minors: steps(0, 2, 0.1), fmt: String},
  {data: md2496U, domain: [1, 9], range: [250.7, 373.3], anchor: "top", color: C.teal,
   majors: steps(1, 9, 1), minors: steps(1, 9, 0.5), fmt: String},
  {data: md2496Mo, domain: [0, 9], range: [331, 459.3], anchor: "bottom", color: C.pink,
   majors: steps(0, 9, 1), minors: steps(0, 9, 0.5), fmt: String},
  {data: md2496Corg, domain: [0, 3], range: [385.7, 498.7], anchor: "top", color: C.green,
   majors: steps(0, 3, 1), minors: steps(0, 3, 0.5), fmt: String},
  {data: odpCd, domain: [0, 2.65], range: [468, 558.1], anchor: "bottom", color: C.orange,
   majors: steps(0, 2.5, 0.5), minors: steps(0, 2.6, 0.1), fmt: d => Number.isInteger(d) ? String(d) : ""},
  {data: odpU, domain: [3.6, 9], range: [525, 607.6], anchor: "top", color: C.teal,
   majors: steps(4, 9, 1), minors: steps(4, 9, 0.5), fmt: String},
  {data: odpMo, domain: [1.45, 8], range: [581.5, 683.3], anchor: "bottom", color: C.pink,
   majors: steps(2, 8, 1), minors: steps(1.5, 8, 0.5), fmt: String},
  {data: odpCorg, domain: [0, 3], range: [620, 721.7], anchor: "top", color: C.green,
   majors: steps(0, 3, 1), minors: steps(0, 3, 0.5), fmt: String},
  {data: md2508Cd, domain: [0, 3], range: [736, 823.3], anchor: "bottom", color: C.orange,
   majors: steps(0, 3, 1), minors: steps(0, 3, 0.5), fmt: String},
  {data: md2508U, domain: [1.85, 7], range: [780, 858.3], anchor: "top", color: C.teal,
   majors: steps(2, 7, 1), minors: steps(2, 7, 0.5), fmt: String},
  {data: md2508Mo, domain: [1.1, 12.4], range: [830.9, 923.3], anchor: "bottom", color: C.pink,
   majors: steps(2, 12, 2), minors: steps(3, 11, 2), fmt: String},
  {data: md2508Corg, domain: [5, 15], range: [875.6, 976.9], anchor: "top", color: C.green,
   majors: steps(6, 14, 2), minors: steps(5, 15, 2), fmt: String, sw: 1.3}
];

for (const t of tracks) {
  const marks = [
    Plot.frame({anchor: t.anchor, stroke: C.ink, strokeWidth: 1.4}),
    Plot.axisX({anchor: t.anchor, ticks: t.minors, tickSize: 4, tickFormat: () => "", stroke: C.ink, color: "none", label: null}),
    Plot.axisX({anchor: t.anchor, ticks: t.majors, tickSize: t.anchor === "top" ? 8 : 7, tickPadding: 3, tickFormat: t.fmt,
      stroke: C.ink, color: t.color, fill: t.color, label: null, fontSize: 14}),
    Plot.line(t.data, {x: d => d[1], y: d => d[0], stroke: t.color, strokeWidth: t.sw || 1, strokeLinejoin: "round"})
  ];
  if (t.yAxis) {
    marks.push(
      Plot.frame({anchor: "left", stroke: C.ink, strokeWidth: 2.4}),
      Plot.axisY({anchor: "left", ticks: d3.range(0, 51, 1), tickSize: 4, tickFormat: () => "", color: "none", stroke: C.ink, label: null}),
      Plot.axisY({anchor: "left", ticks: d3.range(0, 51, 5), tickSize: 8, tickPadding: 3, stroke: C.ink, color: C.ink, label: null, fontSize: 15}),
      Plot.text(["Age (calendar kyr)"], {text: d => d, frameAnchor: "left", rotate: -90, dx: -46, fontWeight: "bold", fontSize: 16.5, fill: C.ink}),
      Plot.text(gispNotes, {x: d => d[1], y: d => d[2], text: d => d[0], fontSize: 14.5, fill: "#333"}),
      Plot.text(["Interstadials"], {text: d => d, x: -37.9, y: 19.6, rotate: -90, fontSize: 14, fill: "#333"})
    );
  }
  fig.append(Plot.plot({
    width: W, height: H, style: plotStyle,
    marginTop: AXIS_TOP, marginBottom: H - AXIS_BOTTOM, marginLeft: t.range[0], marginRight: W - t.range[1],
    x: {domain: t.domain, axis: null},
    y: {domain: ageDomain, range: ageRange, axis: null},
    marks
  }));
}

// ---------- titles above and below the axes ----------
const sup = s => `<span class="sup">${s}</span>`;
const corg = `C<span class="sub">org</span>`;
const labels = [
  [`U/Al (x10${sup("-5")})`, 315, 18, "b", C.teal],
  [`Marine ${corg} (%)`, 443, 18, "b", C.green],
  [`U/Al (x10${sup("-5")})`, 566, 18, "b", C.teal],
  [`Total ${corg} (%)`, 667, 18, "b", C.green],
  [`U/Al (x10${sup("-4")})`, 817, 18, "b", C.teal],
  [`Total ${corg} (%)`, 927, 18, "b", C.green],
  [`GISP2 δ${sup("18")}O`, 128, 818, "b", C.cyan],
  [`(‰, SMOW)`, 128, 839, "b", C.cyan],
  [`(5-pt avg)`, 128, 858, "b small", C.cyan],
  [`Cd/Al (x10${sup("-5")})`, 262, 818, "b", C.orange],
  [`Mo/Al (x10${sup("-5")})`, 397, 818, "b", C.pink],
  [`Vancouver Island margin`, 352, 840, "site", C.ink],
  [`MD02-2496`, 352, 859, "core", C.ink],
  [`Cd/Al (x10${sup("-5")})`, 515, 818, "b", C.orange],
  [`Mo/Al (x10${sup("-5")})`, 633, 818, "b", C.pink],
  [`Southern California margin`, 585, 840, "site", C.ink],
  [`ODP 1017E`, 584, 859, "core", C.ink],
  [`Cd/Al (x10${sup("-4")})`, 778, 818, "b", C.orange],
  [`Mo/Al (x10${sup("-4")})`, 880, 818, "b", C.pink],
  [`Baja California margin`, 855, 840, "site", C.ink],
  [`MD02-2508`, 855, 859, "core", C.ink]
];
for (const [html, x, y, cls, color] of labels) {
  const div = document.createElement("div");
  div.className = "lab " + cls;
  div.innerHTML = html;
  div.style.left = x + "px";
  div.style.top = y + "px";
  div.style.color = color;
  if (cls.includes("small")) div.style.fontSize = "14px";
  fig.append(div);
}
</script>
</body>
</html>
